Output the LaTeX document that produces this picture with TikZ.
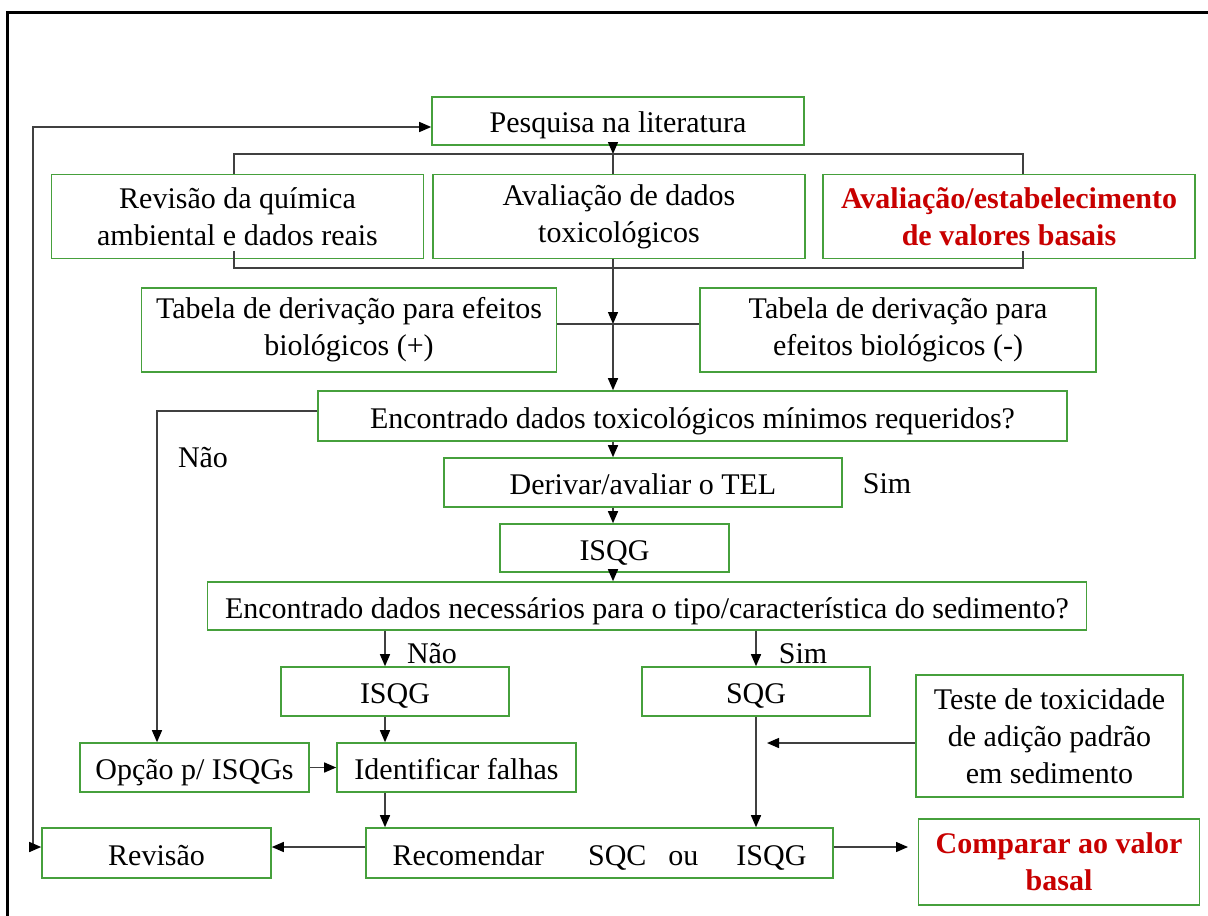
\documentclass[tikz,border=0pt]{standalone}
\usepackage{fontspec}
\setmainfont{Liberation Serif}
\usetikzlibrary{arrows.meta,calc}
\definecolor{bgreen}{RGB}{70,160,60}
\definecolor{bred}{RGB}{200,0,0}
\begin{document}
\begin{tikzpicture}[x=0.5pt,y=-0.5pt,
 box/.style={draw=bgreen, line width=0.8pt, inner sep=0pt, align=center, font=\fontsize{15}{18.5}\selectfont},
 one/.style={text height=14pt, text depth=2pt},
 redtext/.style={text=bred, font=\fontsize{15}{18.5}\selectfont\bfseries},
 conn/.style={draw=black!75, line width=0.7pt},
 arr/.style={conn, -{Triangle[length=6pt,width=5pt,color=black]}},
 lbl/.style={font=\fontsize{15}{18}\selectfont}]
\useasboundingbox (0,0) rectangle (1208,915);
\fill[white] (0,0) rectangle (1208,915);
\draw[line width=1.5pt] (7,940) -- (7,13) -- (1230,13);

% nodes
\node[box, one, minimum width=186pt, minimum height=24pt] (pesq) at (618,121) {Pesquisa na literatura};
\node[box, minimum width=186pt, minimum height=42pt] (rev) at (237.5,216.5) {Revisão da química\\ambiental e dados reais};
\node[box, minimum width=186pt, minimum height=42pt] (aval) at (619,216.5) {Avaliação de dados\\toxicológicos};
\node[box, redtext, minimum width=186pt, minimum height=42pt] (basal) at (1009,216.5) {Avaliação/estabelecimento\\de valores basais};
\node[box, minimum width=207.5pt, minimum height=42pt] (tabp) at (349,330) {Tabela de derivação para efeitos\\biológicos (+)};
\node[box, minimum width=198pt, minimum height=42pt] (tabn) at (898,330) {Tabela de derivação para\\efeitos biológicos (-)};
\node[box, one, minimum width=374.5pt, minimum height=25pt] (enc1) at (692.5,416) {Encontrado dados toxicológicos mínimos requeridos?};
\node[box, one, minimum width=199pt, minimum height=24.5pt] (der) at (643,482.5) {Derivar/avaliar o TEL};
\node[box, one, minimum width=114.5pt, minimum height=24pt] (isqg1) at (614.5,548) {ISQG};
\node[box, one, minimum width=439.5pt, minimum height=24pt] (enc2) at (647,606) {Encontrado dados necessários para o tipo/característica do sedimento?};
\node[box, one, minimum width=114pt, minimum height=24.5pt] (isqg2) at (395,691.5) {ISQG};
\node[box, one, minimum width=114pt, minimum height=24.5pt] (sqg) at (756,691.5) {SQG};
\node[box, minimum width=133.5pt, minimum height=61pt] (teste) at (1049.5,736) {Teste de toxicidade\\de adição padrão\\em sedimento};
\node[box, one, minimum width=114.5pt, minimum height=24.5pt] (opc) at (194.5,767.5) {Opção p/ ISQGs};
\node[box, one, minimum width=119.5pt, minimum height=24.5pt] (ident) at (456.5,767.5) {Identificar falhas};
\node[box, one, minimum width=233.5pt, minimum height=25pt] (rec) at (599.5,853) {Recomendar\hspace{22pt}SQC\hspace{11pt}ou\hspace{19pt}ISQG};
\node[box, one, minimum width=114.5pt, minimum height=25pt] (revis) at (156.5,853) {Revisão};
\node[box, redtext, minimum width=140.5pt, minimum height=43pt] (comp) at (1059,862) {Comparar ao valor\\basal};

% labels
\node[lbl] (nao1) at (203,458) {Não};
\node[lbl] (sim1) at (887,484) {Sim};
\node[lbl] (nao2) at (432,654) {Não};
\node[lbl] (sim2) at (803,654) {Sim};

% coordinates
\coordinate (jtop) at (613,154);
\coordinate (bl1) at (234,154);
\coordinate (br1) at (1023,154);
\coordinate (bl2) at (234,268);
\coordinate (br2) at (1023,268);
\coordinate (jmid) at (613,324);
\coordinate (xL) at (385,0);
\coordinate (ttip) at (767,743);
\coordinate (nl) at (157,411);
\coordinate (ctip) at (908,847);
\coordinate (lp1) at (33,127);
\coordinate (lp2) at (33,847);

% connectors
\draw[arr] (pesq.south -| jtop) -- (jtop);
\draw[conn] (rev.north -| bl1) -- (bl1) -- (br1) -- (basal.north -| br1);
\draw[conn] (jtop) -- (aval.north -| jtop);
\draw[conn] ([yshift=4pt]rev.south -| bl2) -- (bl2) -- (br2) -- ([yshift=4pt]basal.south -| br2);
\draw[arr] (aval.south -| jmid) -- (jmid);
\draw[conn] (tabp.east |- jmid) -- (tabn.west |- jmid);
\draw[arr] (jmid) -- (enc1.north -| jmid);
\draw[arr] (enc1.south -| jmid) -- (der.north -| jmid);
\draw[arr] (der.south -| jmid) -- (isqg1.north -| jmid);
\draw[arr] (isqg1.south -| jmid) -- (enc2.north -| jmid);
\draw[arr] (enc2.south -| xL) -- (isqg2.north -| xL);
\draw[arr] (sqg.north |- enc2.south) -- (sqg.north);
\draw[arr] (isqg2.south -| xL) -- (ident.north -| xL);
\draw[arr] (ident.south -| xL) -- (rec.north -| xL);
\draw[arr] (sqg.south) -- (sqg.south |- rec.north);
\draw[arr] (teste.west |- ttip) -- (ttip);
\draw[arr] (opc.east) -- (ident.west);
\draw[arr] (enc1.west |- nl) -- (nl) -- (opc.north -| nl);
\draw[arr] (rec.west |- lp2) -- (revis.east |- lp2);
\draw[arr] (rec.east |- ctip) -- (ctip);
\draw[conn, {Triangle[length=6pt,width=5pt,color=black]}-{Triangle[length=6pt,width=5pt,color=black]}] (revis.west |- lp2) -- (lp2) -- (lp1) -- (pesq.west |- lp1);
\end{tikzpicture}
\end{document}
